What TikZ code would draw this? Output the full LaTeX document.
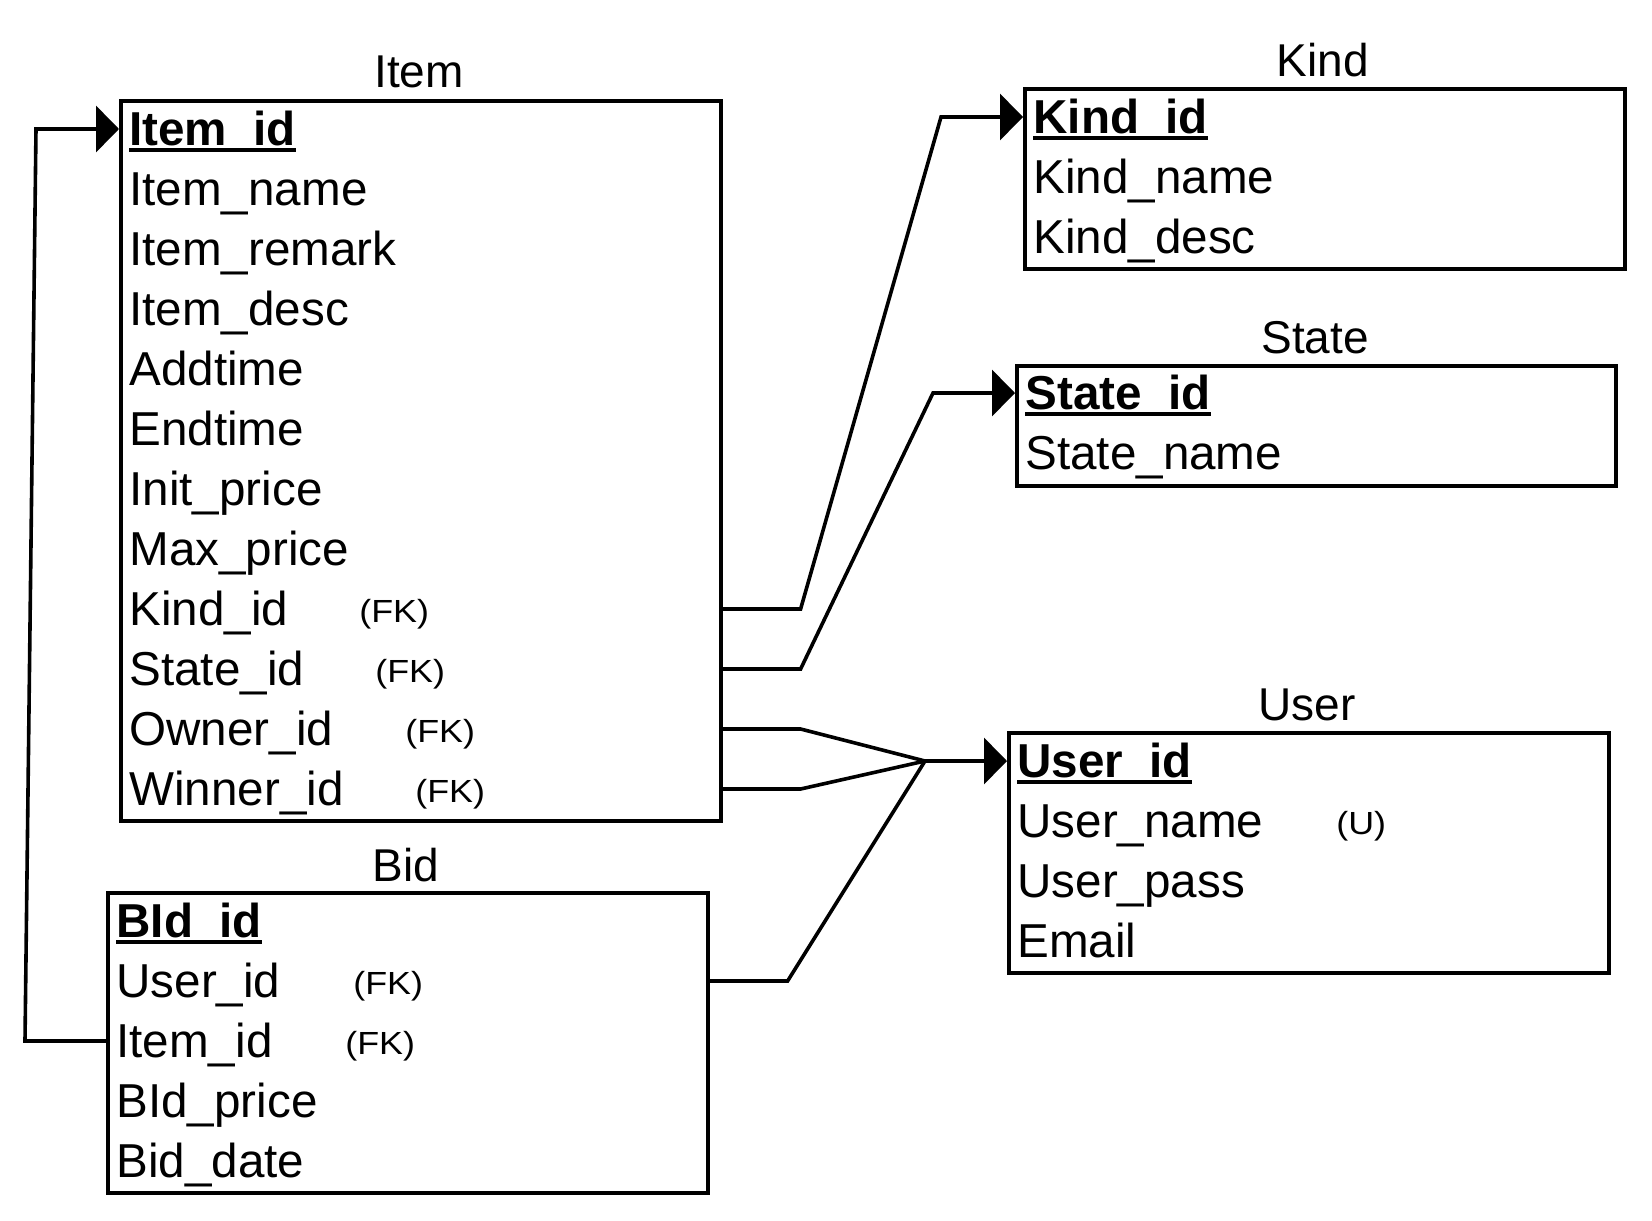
\documentclass[tikz,border=0pt]{standalone}
\usepackage{fontspec}
\setmainfont{Liberation Sans}
\usepackage{graphicx}
\usetikzlibrary{arrows.meta}

% primary key: bold with a heavy underline
\newcommand{\pkey}[1]{\setbox0\hbox{\bfseries #1}\rlap{\rule[-3.4pt]{\wd0}{1.8pt}}\box0}
\newcommand{\fkmark}[1]{\scalebox{1.12}[1]{#1}}

\tikzset{
  tbl/.style={draw, line width=1.8pt, anchor=north west, inner sep=0pt},
  title/.style={anchor=base, inner sep=0pt, font=\fontsize{23}{28}\selectfont},
  field/.style={anchor=west, inner sep=0pt, text height=20pt, text depth=4pt,
    font=\fontsize{23.8}{28}\selectfont},
  fk/.style={anchor=base west, inner sep=0pt, font=\fontsize{16}{19}\selectfont},
  link/.style={line width=1.8pt},
  ref/.style={link, -{Triangle[length=11.5pt,width=23pt]}}
}

\begin{document}
\begin{tikzpicture}[x=0.5pt, y=-0.5pt]
  \useasboundingbox (2,2) rectangle (1654,1222);

  % Item
  \node[tbl, minimum width=300pt, minimum height=360pt] (item) at (121,101) {};
  \node[title] (itemt) at (421,90) {Item};
  \node[field] (item1) at (131,131) {\pkey{Item\_id}};
  \foreach \f [count=\i from 2] in {Item\_name, Item\_remark, Item\_desc, Addtime,
      Endtime, Init\_price, Max\_price, Kind\_id, State\_id, Owner\_id, Winner\_id}
    \node[field] (item\i) at (131,{71+60*\i}) {\f};
  \node[fk] (item9fk) at (361,624) {\fkmark{(FK)}};
  \node[fk] (item10fk) at (377,684) {\fkmark{(FK)}};
  \node[fk] (item11fk) at (407,744) {\fkmark{(FK)}};
  \node[fk] (item12fk) at (417,804) {\fkmark{(FK)}};

  % Bid
  \node[tbl, minimum width=300pt, minimum height=150pt] (bid) at (108,893) {};
  \node[title] (bidt) at (408,883) {Bid};
  \node[field] (bid1) at (118,923) {\pkey{BId\_id}};
  \foreach \f [count=\i from 2] in {User\_id, Item\_id, BId\_price, Bid\_date}
    \node[field] (bid\i) at (118,{863+60*\i}) {\f};
  \node[fk] (bid2fk) at (355,996) {\fkmark{(FK)}};
  \node[fk] (bid3fk) at (347,1056) {\fkmark{(FK)}};

  % Kind
  \node[tbl, minimum width=300pt, minimum height=90pt] (kind) at (1025,89) {};
  \node[title] (kindt) at (1325,78) {Kind};
  \node[field] (kind1) at (1035,119) {\pkey{Kind\_id}};
  \node[field] (kind2) at (1035,179) {Kind\_name};
  \node[field] (kind3) at (1035,239) {Kind\_desc};

  % State
  \node[tbl, minimum width=299.5pt, minimum height=60pt] (state) at (1017,366) {};
  \node[title] (statet) at (1317,355) {State};
  \node[field] (state1) at (1027,395) {\pkey{State\_id}};
  \node[field] (state2) at (1027,455) {State\_name};

  % User
  \node[tbl, minimum width=300pt, minimum height=120pt] (user) at (1009,733) {};
  \node[title] (usert) at (1309,722) {User};
  \node[field] (user1) at (1019,763) {\pkey{User\_id}};
  \node[field] (user2) at (1019,823) {User\_name};
  \node[field] (user3) at (1019,883) {User\_pass};
  \node[field] (user4) at (1019,943) {Email};
  \node[fk] (user2u) at (1338,836) {\fkmark{(U)}};

  % links
  \coordinate (kbend) at (943,119);
  \coordinate (sbend) at (935,395);
  \coordinate (ujoin) at (927,763);
  \coordinate (lbot) at (27,1043);
  \coordinate (ltop) at (38,131);

  \draw[ref] (item9 -| item.east) -- ++(78,0) -- (kbend) -- (kind1 -| kind.west);
  \draw[ref] (item10 -| item.east) -- ++(78,0) -- (sbend) -- (state1 -| state.west);
  \draw[link] (item11 -| item.east) -- ++(78,0) -- (ujoin);
  \draw[link] (item12 -| item.east) -- ++(78,0) -- (ujoin);
  \draw[link] (bid2 -| bid.east) -- ++(78,0) -- (ujoin);
  \draw[ref] (ujoin) -- (user1 -| user.west);
  \draw[ref] (bid3 -| bid.west) -- (lbot) -- (ltop) -- (item1 -| item.west);
\end{tikzpicture}
\end{document}
